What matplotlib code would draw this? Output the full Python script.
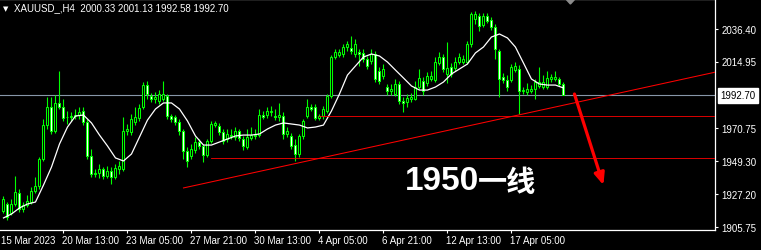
import matplotlib.pyplot as plt
from matplotlib import font_manager
from matplotlib.patches import Polygon
from matplotlib.transforms import blended_transform_factory

# XAUUSD H4 bars
opens = [1916.3, 1920.9, 1915.0, 1920.9, 1928.2, 1917.6, 1920.2, 1922.2, 1929.5, 1932.8,
         1950.6, 1973.0, 1984.9, 1969.1, 1987.6, 1984.9, 1978.3, 1978.3, 1979.0, 1979.6,
         1982.3, 1975.0, 1952.6, 1940.7, 1941.4, 1944.0, 1939.4, 1942.7, 1938.7, 1944.0,
         1944.0, 1969.1, 1968.4, 1975.0, 1977.7, 1984.9, 1999.4, 1992.2, 1990.2, 1988.9,
         1990.2, 1992.2, 1979.0, 1978.3, 1975.0, 1969.1, 1955.9, 1952.6, 1956.5, 1961.8,
         1959.2, 1953.2, 1962.5, 1973.0, 1972.4, 1968.4, 1963.8, 1965.8, 1965.1, 1969.1,
         1963.8, 1958.5, 1964.5, 1966.4, 1966.4, 1979.6, 1979.6, 1981.6, 1979.0, 1978.3,
         1979.0, 1967.1, 1965.8, 1959.8, 1953.9, 1965.8, 1979.0, 1984.9, 1984.9, 1977.7,
         1979.0, 1982.3, 1992.2, 2017.9, 2019.2, 2019.9, 2024.5, 2023.9, 2019.9, 2021.2,
         2020.6, 2016.6, 2015.3, 2019.9, 2008.7, 2005.4, 1998.1, 1995.5, 1993.5, 2000.1,
         1988.9, 1988.2, 1990.2, 1990.2, 1998.1, 2002.1, 2000.8, 2003.4, 2002.7, 2014.0,
         2017.9, 2006.7, 2011.3, 2010.7, 2014.6, 2014.6, 2014.6, 2026.5, 2043.0, 2045.0,
         2039.0, 2045.0, 2042.3, 2037.7, 2021.9, 2004.7, 2002.7, 2002.7, 2009.3, 2010.0,
         1995.5, 1994.8, 1995.5, 1996.8, 1998.8, 1998.1, 1998.1, 2003.4, 2003.4, 2003.4,
         2000.33]
highs = [1926.2, 1922.2, 1924.2, 1939.4, 1930.8, 1922.2, 1926.8, 1932.1, 1938.7, 1951.9,
         1977.0, 1991.5, 1991.5, 1992.8, 2008.7, 1990.2, 1982.3, 1981.6, 1983.6, 1984.9,
         1984.9, 1977.0, 1957.2, 1944.0, 1947.3, 1945.3, 1946.0, 1945.3, 1947.3, 1949.3,
         1978.3, 1973.7, 1980.3, 1984.9, 1986.9, 2001.4, 2002.1, 1994.2, 1994.8, 1996.1,
         2002.1, 1993.5, 1980.3, 1979.6, 1977.0, 1970.4, 1958.5, 1960.5, 1965.1, 1963.8,
         1960.5, 1963.8, 1975.7, 1975.7, 1974.4, 1970.4, 1970.4, 1970.4, 1971.7, 1970.4,
         1965.8, 1970.4, 1971.7, 1970.4, 1983.6, 1982.3, 1984.9, 1985.6, 1983.6, 1987.6,
         1981.6, 1971.7, 1967.8, 1963.8, 1967.1, 1977.0, 1990.2, 1986.9, 1986.9, 1980.3,
         1985.6, 1993.5, 2019.2, 2023.2, 2023.2, 2026.5, 2028.5, 2031.8, 2029.8, 2023.2,
         2023.2, 2018.6, 2023.2, 2021.9, 2011.3, 2013.3, 2000.1, 2000.1, 2003.4, 2002.1,
         1991.5, 1993.5, 1994.2, 2002.1, 2010.0, 2004.7, 2008.0, 2008.7, 2017.9, 2021.2,
         2019.9, 2027.8, 2014.0, 2017.9, 2020.6, 2019.2, 2028.5, 2047.6, 2048.3, 2047.0,
         2047.0, 2047.0, 2044.3, 2039.7, 2023.2, 2007.4, 2006.0, 2013.3, 2014.6, 2012.6,
         1998.1, 2000.8, 1999.4, 2003.4, 2011.3, 2006.0, 2008.7, 2006.7, 2008.7, 2004.7,
         2001.13]
lows = [1915.0, 1910.3, 1913.6, 1919.6, 1915.6, 1915.6, 1918.9, 1920.9, 1928.2, 1930.8,
        1949.3, 1970.4, 1967.1, 1967.8, 1983.6, 1975.7, 1973.7, 1975.7, 1977.0, 1977.0,
        1973.0, 1950.6, 1938.7, 1938.7, 1938.1, 1937.4, 1938.1, 1934.1, 1937.4, 1940.7,
        1942.7, 1966.4, 1966.4, 1973.0, 1975.7, 1983.6, 1990.2, 1988.2, 1987.6, 1986.9,
        1988.9, 1977.0, 1975.0, 1973.0, 1966.4, 1950.6, 1945.3, 1950.6, 1954.6, 1957.2,
        1948.6, 1951.9, 1961.2, 1971.7, 1966.4, 1960.5, 1961.8, 1963.8, 1963.1, 1962.5,
        1956.5, 1957.2, 1963.1, 1963.8, 1965.1, 1977.0, 1977.7, 1979.0, 1976.3, 1975.7,
        1963.8, 1965.1, 1957.2, 1949.3, 1951.9, 1963.8, 1977.7, 1982.3, 1976.3, 1976.3,
        1977.0, 1981.0, 1990.9, 2016.6, 2017.9, 2017.9, 2021.9, 2019.9, 2017.9, 2012.0,
        2014.6, 2010.0, 2013.3, 2001.4, 2000.1, 2003.4, 1992.8, 1992.8, 1992.2, 1986.9,
        1981.6, 1984.9, 1988.2, 1989.5, 1996.8, 1992.8, 1998.8, 2002.1, 2001.4, 2012.6,
        2008.0, 2000.8, 2004.7, 2008.7, 2013.3, 2013.3, 2013.3, 2024.5, 2039.7, 2035.1,
        2037.7, 2040.4, 2035.7, 2016.6, 1991.5, 2000.8, 1995.5, 2001.4, 2008.0, 1980.3,
        1993.5, 1992.8, 1994.2, 1990.2, 1997.5, 1996.8, 1996.8, 2001.4, 2002.1, 1998.8,
        1992.58]
closes = [1924.2, 1912.3, 1920.9, 1928.9, 1917.6, 1920.2, 1922.9, 1929.5, 1932.8, 1950.6,
          1973.0, 1984.9, 1969.1, 1987.6, 1984.9, 1977.7, 1978.0, 1979.0, 1979.6, 1981.6,
          1975.0, 1952.6, 1940.7, 1941.4, 1944.0, 1939.4, 1942.7, 1938.7, 1944.7, 1946.0,
          1969.1, 1970.4, 1977.0, 1978.3, 1984.3, 1999.4, 1993.5, 1990.2, 1991.5, 1993.5,
          1993.5, 1979.0, 1977.0, 1975.0, 1969.1, 1955.9, 1949.3, 1957.2, 1961.8, 1959.2,
          1953.2, 1962.5, 1973.7, 1974.4, 1968.4, 1962.5, 1967.1, 1966.4, 1969.1, 1964.5,
          1959.2, 1965.1, 1966.4, 1965.8, 1979.6, 1978.3, 1982.3, 1982.3, 1978.3, 1979.6,
          1967.1, 1969.1, 1959.2, 1953.9, 1965.8, 1975.7, 1984.9, 1983.6, 1977.7, 1979.0,
          1983.6, 1992.2, 2017.9, 2021.2, 2021.2, 2024.5, 2026.5, 2021.9, 2026.5, 2019.9,
          2016.6, 2012.0, 2019.9, 2003.4, 2002.1, 2010.0, 1995.5, 1996.8, 2000.1, 1988.9,
          1987.6, 1990.9, 1991.5, 1998.1, 2004.1, 1995.5, 2005.4, 2005.4, 2014.6, 2017.9,
          2010.0, 2010.7, 2006.7, 2014.6, 2017.9, 2016.6, 2026.5, 2046.3, 2046.3, 2038.4,
          2045.0, 2041.7, 2037.7, 2023.2, 2003.4, 2002.7, 1998.1, 2011.3, 2012.0, 1995.5,
          1996.1, 1996.8, 1996.8, 2001.4, 2001.4, 2001.4, 2004.1, 2004.7, 2004.7, 2000.1,
          1992.70]

# moving average (white line), read every second bar
ma_vals = [1911.7, 1914.3, 1918.3, 1920.9, 1922.2, 1933.4, 1945.3, 1960.5, 1971.7, 1979.0,
           1979.6, 1974.4, 1966.4, 1959.2, 1951.3, 1949.3, 1953.9, 1965.1, 1976.3, 1983.6,
           1987.6, 1987.6, 1983.6, 1975.7, 1965.8, 1959.8, 1959.8, 1961.8, 1963.8, 1965.8,
           1966.4, 1966.4, 1967.1, 1970.4, 1973.0, 1974.4, 1973.7, 1973.0, 1971.1, 1971.7,
           1973.0, 1982.3, 1993.5, 2006.0, 2012.0, 2017.9, 2019.9, 2018.6, 2014.6, 2009.3,
           2004.1, 1998.8, 1996.1, 1996.1, 1998.1, 2001.4, 2006.7, 2010.0, 2013.3, 2020.6,
           2024.5, 2031.1, 2033.1, 2030.5, 2024.5, 2014.0, 2003.4, 2000.1, 1999.4, 1999.4,
           1997.5]
ma_idx = list(range(0, 141, 2))

price_ticks = [2036.40, 2014.95, 1970.75, 1949.30, 1927.20, 1905.75]
last_price = 1992.70
time_ticks = [15, 31, 47, 63, 79, 95, 111, 127]
time_labels = ["20 Mar 13:00", "23 Mar 05:00", "27 Mar 21:00", "30 Mar 13:00",
               "4 Apr 05:00", "6 Apr 21:00", "12 Apr 13:00", "17 Apr 05:00"]
first_label = "15 Mar 2023"
header = "XAUUSD_,H4  2000.33 2001.13 1992.58 1992.70"

# drawn objects
trend_x = [45, 140]
trend_y = [1931.5, 1986.1]
level_a = (79, 1978.8)
level_b = (52, 1951.1)
arrow_from = (142.75, 1993.5)
arrow_to = (150, 1933.4)

plt.rcParams['font.family'] = ['Liberation Sans', 'DejaVu Sans']
names = {f.name for f in font_manager.fontManager.ttflist}
big_font = 'Liberation Sans Narrow' if 'Liberation Sans Narrow' in names else 'Liberation Sans'

lime = '#00ff00'
fig = plt.figure(figsize=(7.61, 2.51), dpi=100, facecolor='black')
ax = fig.add_axes([0, 20.5 / 251, 715 / 761, 230.5 / 251], facecolor='black')
x0, x1 = -0.875, 177.9
y0, y1 = 1904.07, 2056.2
ax.set_xlim(x0, x1)
ax.set_ylim(y0, y1)

n = len(closes)
idx = list(range(n))
ax.vlines(idx, lows, highs, color=lime, lw=0.8, zorder=2)
bottoms = [min(o, c) for o, c in zip(opens, closes)]
heights = [abs(c - o) for o, c in zip(opens, closes)]
fills = ['black' if c >= o else 'white' for o, c in zip(opens, closes)]
ax.bar(idx, heights, bottom=bottoms, width=0.5, color=fills, edgecolor=lime,
       linewidth=0.75, zorder=3)

ax.plot(ma_idx, ma_vals, color='white', lw=0.9, zorder=4)

# current price line
ax.axhline(last_price, color='#8796a8', lw=0.8, zorder=1)

# trend line extended to the right edge
slope = (trend_y[1] - trend_y[0]) / (trend_x[1] - trend_x[0])
ax.plot([trend_x[0], x1], [trend_y[0], trend_y[0] + slope * (x1 - trend_x[0])],
        color='red', lw=0.75, zorder=5)
ax.plot([level_a[0], x1], [level_a[1], level_a[1]], color='red', lw=0.6, zorder=5)
ax.plot([level_b[0], x1], [level_b[1], level_b[1]], color='red', lw=0.6, zorder=5)

ax.annotate('', xy=arrow_to, xytext=arrow_from,
            arrowprops=dict(arrowstyle='-|>,head_length=0.7,head_width=0.3',
                            color='red', lw=2.3, shrinkA=0, shrinkB=0), zorder=6)

ax.text(100.4, 1936.1, '1950', family=big_font, fontsize=24, weight='bold',
        color='white', ha='left', va='center', zorder=7)
ax.text(118.6, 1936.1, '一线', family='Noto Sans CJK SC', fontsize=21, weight='bold',
        color='white', ha='left', va='center', zorder=7)

# chart shift marker at the top
ax.add_patch(Polygon([[140.6, y1], [142.9, y1], [141.75, y1 - 3.3]], closed=True,
                     color='#8c8c8c', zorder=8, clip_on=False))

# axes styling
ax.spines['left'].set_visible(False)
for s in ['top', 'right', 'bottom']:
    ax.spines[s].set_color('white')
    ax.spines[s].set_linewidth(0.9)

ax.yaxis.tick_right()
ax.set_yticks(price_ticks)
ax.set_yticklabels(['%.2f' % p for p in price_ticks])
ax.tick_params(axis='y', colors='white', length=2.5, width=0.8, pad=2, labelsize=7)

ax.set_xticks(time_ticks)
ax.set_xticklabels([])
ax.tick_params(axis='x', colors='white', length=2.5, width=0.8)
bt = blended_transform_factory(ax.transData, ax.transAxes)
ax.text(-0.6, -0.046, first_label, transform=bt, color='white', fontsize=7,
        ha='left', va='center')
for t, lab in zip(time_ticks, time_labels):
    ax.text(t - 0.3, -0.046, lab, transform=bt, color='white', fontsize=7,
            ha='left', va='center')

bty = blended_transform_factory(ax.transAxes, ax.transData)
ax.text(1.007, last_price, '%.2f' % last_price, transform=bty, color='black',
        fontsize=7, ha='left', va='center',
        bbox=dict(boxstyle='square,pad=0.25', fc='white', ec='white'))

fig.text(3 / 761, 1 - 9 / 251, '▼', family='DejaVu Sans', fontsize=5,
         color='white', ha='left', va='center')
fig.text(14 / 761, 1 - 8.5 / 251, header, fontsize=7, color='white',
         ha='left', va='center')

fig.savefig('out.png', dpi=100, facecolor='black')
